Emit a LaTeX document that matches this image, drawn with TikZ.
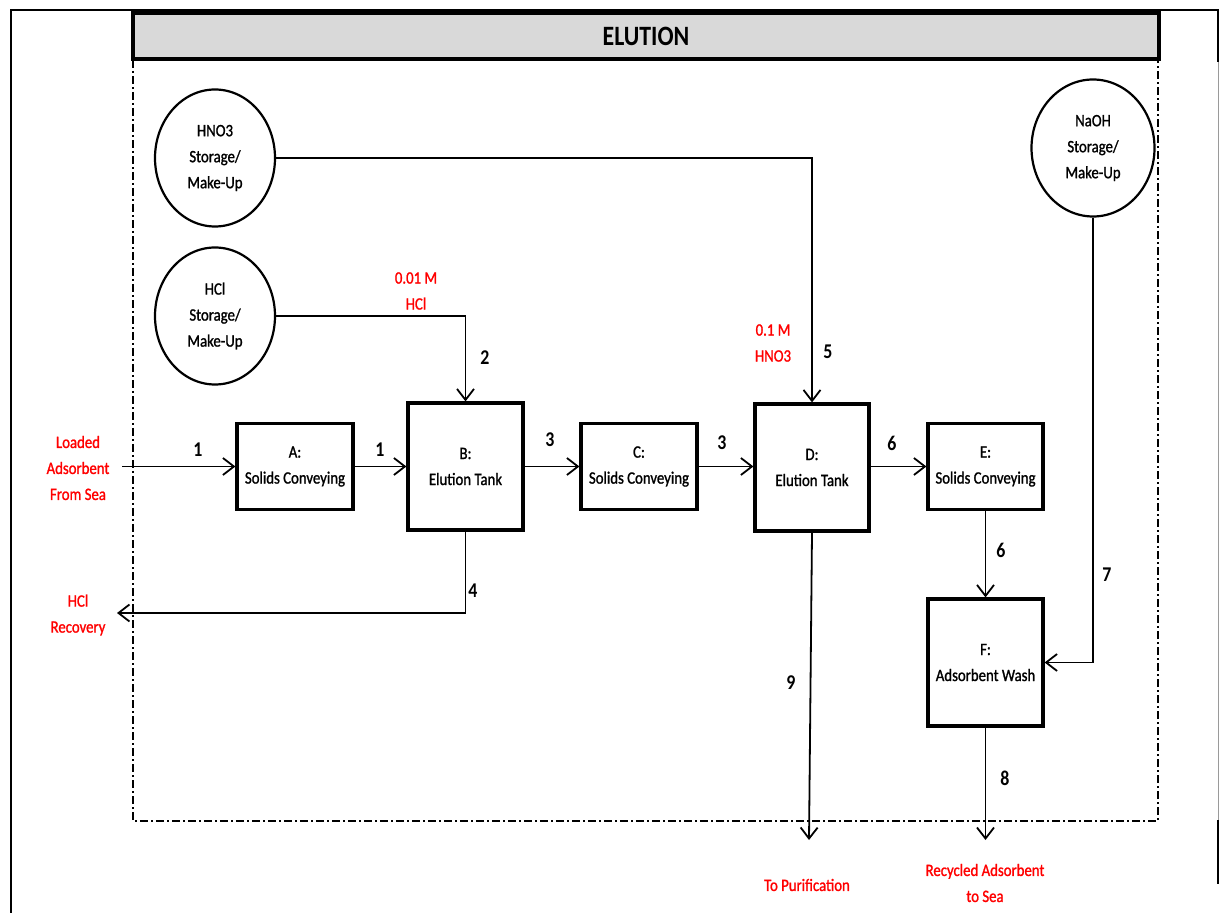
\documentclass[tikz,border=0pt]{standalone}
\usepackage{fontspec}
\setmainfont{Carlito}[FakeStretch=0.85]
\newfontfamily\semib{Carlito}[FakeStretch=0.85, FakeBold=1.2]
\usetikzlibrary{arrows.meta,shapes.geometric}
\definecolor{hdrgray}{HTML}{D9D9D9}
\definecolor{edgegray}{HTML}{9A9A9A}
\tikzset{
  unit/.style={draw, line width=1.6pt, align=center, inner sep=0pt,
    font=\fontsize{8.7}{13}\selectfont\semib},
  tank/.style={unit, minimum width=57.5pt, minimum height=63.5pt},
  conv/.style={unit, minimum width=58pt, minimum height=43pt},
  store/.style={draw, ellipse, line width=1.1pt, minimum width=60pt, minimum height=68.5pt,
    align=center, inner sep=0pt, font=\fontsize{8.7}{13}\selectfont\semib},
  flow/.style={line width=0.9pt, -{Straight Barb[length=5.5pt,width=8.5pt,line width=0.9pt]}},
  num/.style={font=\fontsize{10.5}{12}\selectfont\bfseries, inner sep=0pt},
  redtxt/.style={text=red, align=center, inner sep=0pt, font=\fontsize{8.7}{13}\selectfont\semib},
}
\begin{document}
\begin{tikzpicture}[x=0.5pt,y=-0.5pt]
\useasboundingbox (0,0) rectangle (1219,913);
% outer page frame
\draw[line width=1.2pt] (11,913) -- (11,10) -- (1219,10);
\draw[line width=1.2pt] (1218,10) -- (1218,62);
\draw[edgegray, line width=0.5pt] (1218,62) -- (1218,820);
\draw[line width=1.2pt] (1218,820) -- (1218,884);
% header
\node[draw, fill=hdrgray, line width=1.6pt, minimum width=513pt, minimum height=23pt,
  inner sep=0pt, font=\fontsize{14}{16}\selectfont\bfseries] (hdr) at (646,36) {ELUTION};
% dash-dot boundary
\draw[line width=1pt, dash pattern=on 4pt off 1.5pt on 1pt off 1.5pt]
  (133,60) -- (133,821) -- (1158,821) -- (1158,60);
% storage
\node[store] (hno3) at (215,158) {HNO3\\Storage/\\Make-Up};
\node[store] (hcl) at (215,316) {HCl\\Storage/\\Make-Up};
\node[store, minimum width=61.5pt] (naoh) at (1093,148) {NaOH\\Storage/\\Make-Up};
% units
\node[conv] (A) at (295,466.5) {A:\\Solids Conveying};
\node[tank] (B) at (465.5,466.5) {B:\\Elution Tank};
\node[conv] (C) at (639,466.5) {C:\\Solids Conveying};
\node[tank, minimum width=57pt] (D) at (812,467.5) {D:\\Elution Tank};
\node[conv, minimum width=57.5pt] (E) at (985.5,466.5) {E:\\Solids Conveying};
\node[tank] (F) at (985.5,662.5) {F:\\Adsorbent Wash};
% terminals
\node[redtxt] (load) at (78,468) {Loaded\\Adsorbent\\From Sea};
\node[redtxt] (hclrec) at (78,615) {HCl\\Recovery};
\node[redtxt] (hclconc) at (416,291) {0.01 M\\HCl};
\node[redtxt] (hno3conc) at (773,343) {0.1 M\\HNO3};
\node[redtxt] (purif) at (807,885) {To Purification};
\node[redtxt] (recyc) at (985,883) {Recycled Adsorbent\\to Sea};
\coordinate (inA) at (122,466.5);
\coordinate (outRec) at (117,613);
\coordinate (outPur) at (809,840);
\coordinate (outSea) at (985.5,840);
% connectors
\draw[flow] (inA) -- (A);
\draw[flow] (A) -- (B);
\draw[flow] (B) -- (C);
\draw[flow] (C) -- (D.west |- C.east);
\draw[flow] (D.east |- E.west) -- (E);
\draw[flow] (E) -- (F);
\draw[flow] (hcl.east) -| (B.north);
\draw[flow] (hno3.east) -| (D.north);
\draw[flow] (naoh.south) |- (F.east);
\draw[flow] (B.south) |- (outRec);
\draw[flow] (D.south) -- (outPur);
\draw[flow] (F.south) -- (outSea);
% stream numbers
\node[num] (n1a) at (198,450) {1};
\node[num] (n1b) at (380,450) {1};
\node[num] (n2) at (485,358) {2};
\node[num] (n3a) at (550,440) {3};
\node[num] (n3b) at (722,443) {3};
\node[num] (n4) at (473,591) {4};
\node[num] (n5) at (828,352) {5};
\node[num] (n6a) at (892,443) {6};
\node[num] (n6b) at (1001,550) {6};
\node[num] (n7) at (1107,575) {7};
\node[num] (n8) at (1005,778) {8};
\node[num] (n9) at (791,683) {9};
\end{tikzpicture}
\end{document}
